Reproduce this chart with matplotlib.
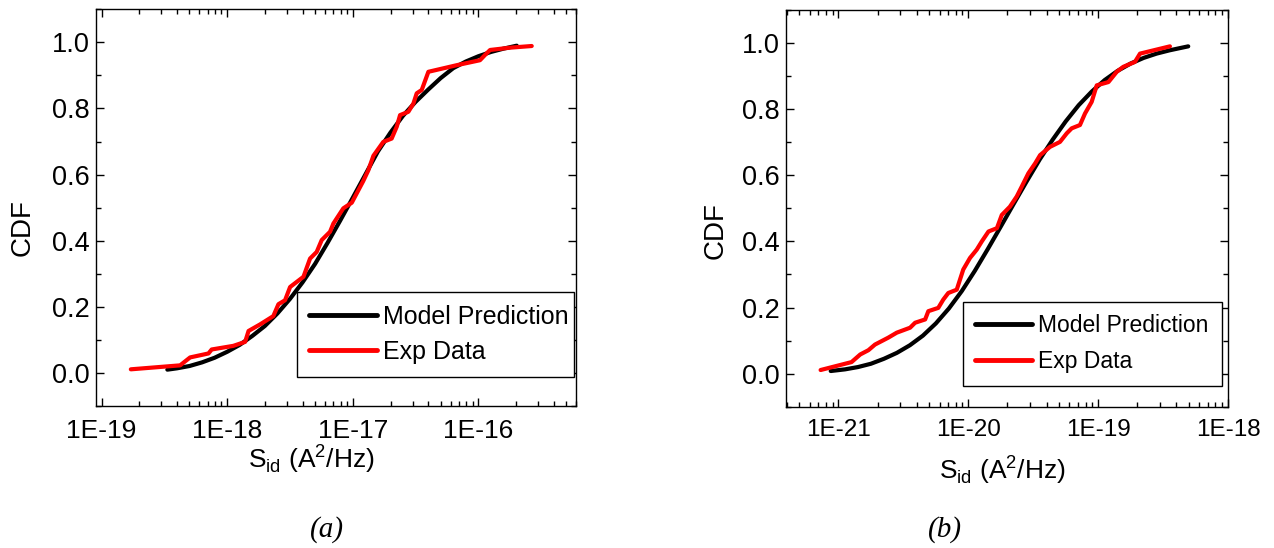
import numpy as np
import matplotlib
matplotlib.use('Agg')
import matplotlib.pyplot as plt
import matplotlib.ticker as ticker

plt.rcParams['font.family'] = ['Liberation Sans', 'DejaVu Sans']

########## PANEL (a) DATA ##########
a_model_x = [3.34e-19, 3.981e-19, 5.012e-19, 6.310e-19, 7.943e-19, 1.0e-18, 1.259e-18, 1.585e-18,
             1.995e-18, 2.512e-18, 3.162e-18, 3.981e-18, 5.012e-18, 6.310e-18, 7.943e-18, 1.0e-17,
             1.259e-17, 1.585e-17, 1.995e-17, 2.512e-17, 3.162e-17, 3.981e-17, 5.012e-17, 6.310e-17,
             7.943e-17, 1.0e-16, 1.259e-16, 1.585e-16, 2.02e-16]
a_model_y = [0.010, 0.014, 0.021, 0.032, 0.046, 0.064, 0.085, 0.112,
             0.142, 0.180, 0.224, 0.274, 0.330, 0.394, 0.461, 0.530,
             0.600, 0.670, 0.727, 0.778, 0.820, 0.857, 0.892, 0.922,
             0.942, 0.958, 0.971, 0.981, 0.990]

a_exp_x = [1.71e-19, 4.22e-19, 5.07e-19, 7.10e-19, 7.53e-19, 1.12e-18, 1.39e-18, 1.48e-18,
           1.83e-18, 2.33e-18, 2.56e-18, 2.89e-18, 3.17e-18, 4.05e-18, 4.57e-18, 5.16e-18,
           5.66e-18, 6.59e-18, 7.01e-18, 8.41e-18, 9.82e-18, 1.21e-17, 1.33e-17, 1.46e-17,
           1.75e-17, 2.04e-17, 2.24e-17, 2.38e-17, 2.77e-17, 3.04e-17, 3.23e-17, 3.54e-17,
           4.00e-17, 6.73e-17, 1.03e-16, 1.13e-16, 1.24e-16, 1.79e-16, 2.66e-16]
a_exp_y = [0.011, 0.023, 0.047, 0.059, 0.071, 0.082, 0.094, 0.127,
           0.147, 0.172, 0.208, 0.220, 0.260, 0.291, 0.346, 0.366,
           0.402, 0.427, 0.452, 0.498, 0.515, 0.580, 0.613, 0.657,
           0.699, 0.709, 0.745, 0.780, 0.790, 0.815, 0.846, 0.856,
           0.911, 0.931, 0.946, 0.962, 0.977, 0.984, 0.989]

########## PANEL (b) DATA ##########
b_model_x = [8.71e-22, 1.122e-21, 1.413e-21, 1.778e-21, 2.239e-21, 2.818e-21, 3.548e-21, 4.467e-21,
             5.623e-21, 7.079e-21, 8.913e-21, 1.122e-20, 1.413e-20, 1.778e-20, 2.239e-20, 2.818e-20,
             3.548e-20, 4.467e-20, 5.623e-20, 7.079e-20, 8.913e-20, 1.122e-19, 1.413e-19, 1.778e-19,
             2.239e-19, 2.818e-19, 3.548e-19, 4.94e-19]
b_model_y = [0.008, 0.013, 0.020, 0.030, 0.045, 0.063, 0.086, 0.115,
             0.152, 0.197, 0.250, 0.311, 0.377, 0.445, 0.514, 0.582,
             0.648, 0.708, 0.763, 0.812, 0.853, 0.888, 0.916, 0.938,
             0.955, 0.968, 0.978, 0.990]

b_exp_x = [7.28e-22, 1.26e-21, 1.47e-21, 1.70e-21, 1.91e-21, 2.42e-21, 2.81e-21, 3.56e-21,
           3.89e-21, 4.65e-21, 4.92e-21, 5.87e-21, 6.41e-21, 7.01e-21, 8.14e-21, 9.14e-21,
           1.03e-20, 1.16e-20, 1.27e-20, 1.43e-20, 1.66e-20, 1.81e-20, 2.09e-20, 2.36e-20,
           2.58e-20, 2.90e-20, 3.27e-20, 3.57e-20, 4.26e-20, 5.08e-20, 5.73e-20, 6.25e-20,
           7.24e-20, 7.92e-20, 8.91e-20, 9.75e-20, 1.20e-19, 1.39e-19, 1.56e-19, 1.92e-19,
           2.10e-19, 3.57e-19]
b_exp_y = [0.011, 0.035, 0.058, 0.071, 0.088, 0.109, 0.124, 0.139,
           0.154, 0.164, 0.189, 0.199, 0.224, 0.244, 0.254, 0.315,
           0.350, 0.375, 0.400, 0.430, 0.440, 0.480, 0.505, 0.536,
           0.566, 0.606, 0.636, 0.661, 0.686, 0.701, 0.727, 0.742,
           0.752, 0.787, 0.822, 0.872, 0.882, 0.913, 0.928, 0.943,
           0.968, 0.990]

a_decades = [1e-19, 1e-18, 1e-17, 1e-16]
b_decades = [1e-21, 1e-20, 1e-19, 1e-18]

labels = ['Model Prediction', 'Exp Data']
xlabel = r'S$_{\mathregular{id}}$ (A$^{\mathregular{2}}$/Hz)'

def dec_fmt(v, pos):
    return '1E%d' % int(round(np.log10(v)))

def panel(ax, mx, my, ex, ey, xlim, decades, xfont, leg_box, leg_font, leg_hl, leg_sp,
          ylab_xy, xlab_xy, tag, tag_xy):
    ax.plot(mx, my, color='k', lw=3, solid_capstyle='round', label=labels[0], zorder=2)
    ax.plot(ex, ey, color='#ff0000', lw=3, solid_capstyle='round', label=labels[1], zorder=3)
    ax.set_xscale('log')
    ax.set_xlim(*xlim)
    ax.set_ylim(-0.1, 1.1)

    minors = [d * k for d in [decades[0] / 10] + decades for k in range(2, 10)]
    minors = [m for m in minors if xlim[0] <= m <= xlim[1]]
    ax.xaxis.set_major_locator(ticker.FixedLocator(decades))
    ax.xaxis.set_minor_locator(ticker.FixedLocator(minors))
    ax.xaxis.set_major_formatter(ticker.FuncFormatter(dec_fmt))
    ax.xaxis.set_minor_formatter(ticker.NullFormatter())
    ax.yaxis.set_major_locator(ticker.FixedLocator([0.0, 0.2, 0.4, 0.6, 0.8, 1.0]))
    ax.yaxis.set_minor_locator(ticker.FixedLocator([-0.1, 0.1, 0.3, 0.5, 0.7, 0.9, 1.1]))
    ax.yaxis.set_major_formatter(ticker.FormatStrFormatter('%.1f'))

    plt.setp(ax.spines.values(), linewidth=1.0)
    ax.tick_params(direction='in', length=6, width=1.0, which='major', top=True, right=True)
    ax.tick_params(direction='in', length=3.5, width=1.0, which='minor', top=True, right=True)
    ax.tick_params(axis='x', which='major', pad=9, labelsize=xfont)
    ax.tick_params(axis='y', which='major', pad=4.5, labelsize=19.5)

    ax.set_ylabel('CDF', fontsize=20, va='center', ha='center')
    ax.yaxis.set_label_coords(*ylab_xy)
    ax.set_xlabel(xlabel, fontsize=19, va='top', ha='center')
    ax.xaxis.set_label_coords(*xlab_xy)

    leg = ax.legend(loc='lower left', bbox_to_anchor=leg_box, mode='expand', borderaxespad=0,
                    fontsize=leg_font, handlelength=leg_hl, handletextpad=0.25, borderpad=leg_sp[0],
                    labelspacing=leg_sp[1], fancybox=False, framealpha=1, edgecolor='k')
    leg.get_frame().set_linewidth(1.0)
    for h in leg.get_lines():
        h.set_linewidth(3.5)

    fig.text(tag_xy[0], tag_xy[1], tag, fontsize=21, family='Liberation Serif',
             style='italic', ha='center', va='center')

fig = plt.figure(figsize=(12.74, 5.48), dpi=100)
ax1 = fig.add_axes([0.0754, 0.2591, 0.3768, 0.7239])
ax2 = fig.add_axes([0.6166, 0.2578, 0.3473, 0.7240])

panel(ax1, a_model_x, a_model_y, a_exp_x, a_exp_y, (9.04e-20, 6.0e-16), a_decades, 19,
      (0.418, 0.074, 0.5785, 0.206), 18, 2.7, (0.5, 0.45),
      (-0.1535, 0.449), (0.448, -0.09), '(a)', (0.2567, 0.033))
panel(ax2, b_model_x, b_model_y, b_exp_x, b_exp_y, (3.91e-22, 1.0e-18), b_decades, 17.5,
      (0.40, 0.053, 0.586, 0.203), 16.5, 2.5, (0.55, 0.55),
      (-0.159, 0.445), (0.49, -0.118), '(b)', (0.742, 0.033))

plt.savefig('out.png', dpi=100)
